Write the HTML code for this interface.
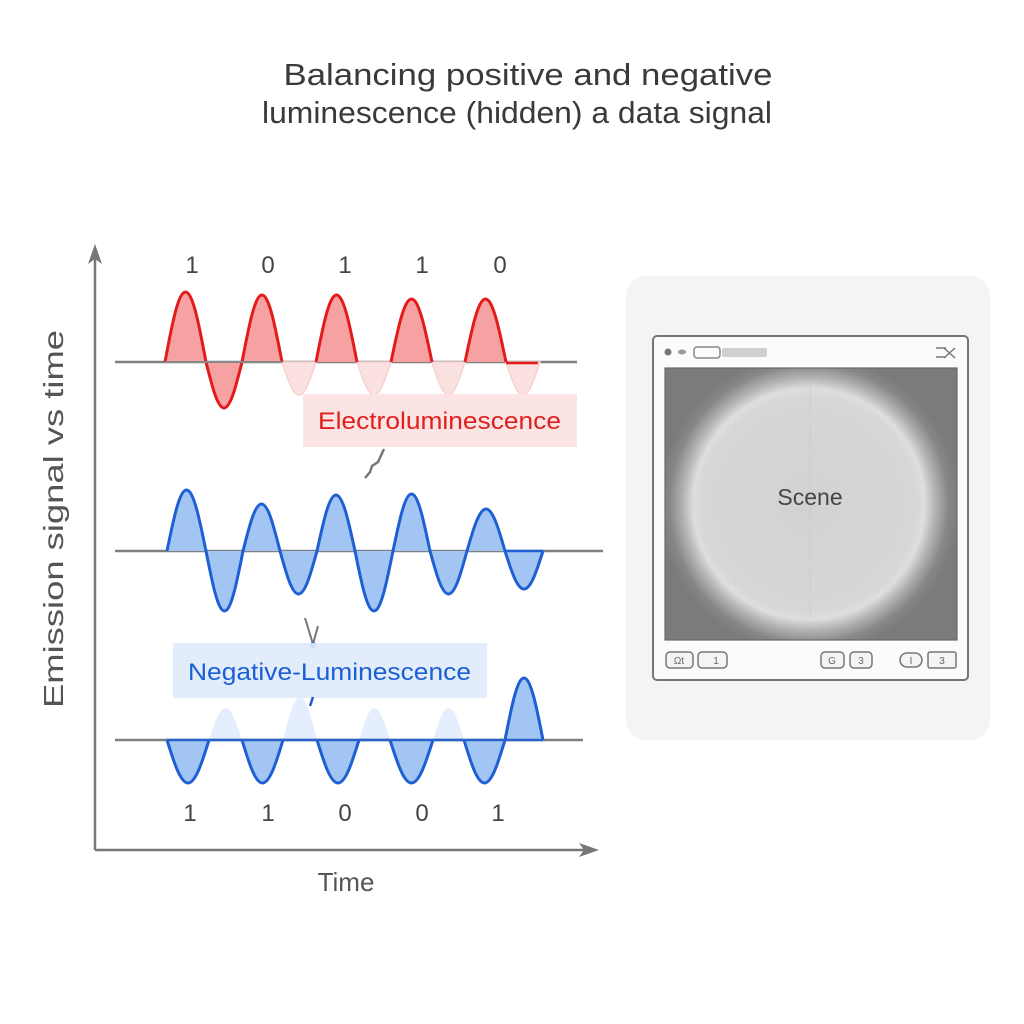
<!DOCTYPE html>
<html><head><meta charset="utf-8"><style>
html,body{margin:0;padding:0;background:#fff;}
svg{display:block;}
text{font-family:"Liberation Sans",sans-serif;}
</style></head><body>
<svg width="1024" height="1024" viewBox="0 0 1024 1024" xmlns="http://www.w3.org/2000/svg">
<defs>
<radialGradient id="scene" cx="809" cy="504" r="150" gradientUnits="userSpaceOnUse">
<stop offset="0" stop-color="#d2d2d2"/>
<stop offset="0.72" stop-color="#d7d7d7"/>
<stop offset="0.77" stop-color="#dedede"/>
<stop offset="0.84" stop-color="#b4b4b4"/>
<stop offset="0.93" stop-color="#878789"/>
<stop offset="1" stop-color="#7b7b7d"/>
</radialGradient>
</defs>
<rect width="1024" height="1024" fill="#fff"/>

<!-- Title -->
<text x="528" y="85" font-size="31" fill="#3a3a3a" text-anchor="middle" textLength="489" lengthAdjust="spacingAndGlyphs">Balancing positive and negative</text>
<text x="517" y="123" font-size="31" fill="#3a3a3a" text-anchor="middle" textLength="510" lengthAdjust="spacingAndGlyphs">luminescence (hidden) a data signal</text>

<!-- Axes -->
<line x1="95" y1="850" x2="95" y2="258" stroke="#777" stroke-width="2.5"/>
<polygon points="95,244 88,264 95,259 102,264" fill="#777"/>
<line x1="95" y1="850" x2="585" y2="850" stroke="#777" stroke-width="2.5"/>
<polygon points="599,850 579,843 584,850 579,857" fill="#777"/>
<text transform="translate(63,519) rotate(-90)" font-size="28" fill="#555" text-anchor="middle" textLength="378" lengthAdjust="spacingAndGlyphs">Emission signal vs time</text>
<text x="346" y="891" font-size="26" fill="#555" text-anchor="middle">Time</text>

<!-- Top labels -->
<g font-size="24" fill="#444" text-anchor="middle">
<text x="192" y="273">1</text><text x="268" y="273">0</text><text x="345" y="273">1</text><text x="422" y="273">1</text><text x="500" y="273">0</text>
<text x="190" y="821">1</text><text x="268" y="821">1</text><text x="345" y="821">0</text><text x="422" y="821">0</text><text x="498" y="821">1</text>
</g>

<!-- RED signal -->
<line x1="115" y1="362" x2="577" y2="362" stroke="#808080" stroke-width="2.5"/>
<g fill="#fbe0e0" stroke="#f6d2d2" stroke-width="1.5">
<path d="M282,362 C287.7,379.3 292.8,395 299,395 C305.2,395 310.3,379.3 316,362 Z"/>
<path d="M357,362 C362.7,379.3 367.8,395 374,395 C380.2,395 385.3,379.3 391,362 Z"/>
<path d="M432,362 C437.5,379.3 442.5,395 448.5,395 C454.5,395 459.5,379.3 465,362 Z"/>
<path d="M506,362 C511.7,379.3 516.8,395 523,395 C529.2,395 534.3,379.3 540,362 Z"/>
</g>
<g fill="#f7a2a2" stroke="#e31b1b" stroke-width="3" stroke-linejoin="round">
<path d="M165,362 C171.8,325.3 178.1,292 185.5,292 C192.9,292 199.2,325.3 206,362 C212,386.1 217.5,408 224,408 C230.5,408 236,386.1 242,362 C248.7,326.9 254.8,295 262,295 C269.2,295 275.3,326.9 282,362"/>
<path d="M316,362 C322.8,326.9 329.1,295 336.5,295 C343.9,295 350.2,326.9 357,362"/>
<path d="M391,362 C397.8,329 404.1,299 411.5,299 C418.9,299 425.2,329 432,362"/>
<path d="M465,362 C471.8,329 478.1,299 485.5,299 C492.9,299 499.2,329 506,362"/>
</g>
<line x1="165" y1="362" x2="282" y2="362" stroke="#888" stroke-width="2"/>
<line x1="506" y1="363" x2="538" y2="363" stroke="#e31b1b" stroke-width="2.5"/>

<!-- Electroluminescence label -->
<rect x="303" y="394" width="274" height="53" fill="#fde4e4"/>
<text x="318" y="429" font-size="24" fill="#e0201e" textLength="243" lengthAdjust="spacingAndGlyphs">Electroluminescence</text>
<path d="M384,449 L378,462 L372,466 L370,472 L365,478" stroke="#777" stroke-width="2.5" fill="none"/>

<!-- BLUE middle -->
<line x1="115" y1="551" x2="603" y2="551" stroke="#808080" stroke-width="2.5"/>
<path d="M167,551 C173.5,519.1 179.4,490 186.5,490 C193.6,490 199.5,519.1 206,551 C212.2,582.4 217.8,611 224.5,611 C231.2,611 236.8,582.4 243,551 C249.2,526.4 254.8,504 261.5,504 C268.2,504 273.8,526.4 280,551 C286.2,573.5 291.8,594 298.5,594 C305.2,594 310.8,573.5 317,551 C323.3,521.7 329.1,495 336,495 C342.9,495 348.7,521.7 355,551 C361.3,582.4 367.1,611 374,611 C380.9,611 386.7,582.4 393,551 C399.2,521.2 404.8,494 411.5,494 C418.2,494 423.8,521.2 430,551 C436.2,573.5 441.8,594 448.5,594 C455.2,594 460.8,573.5 467,551 C473.3,529 479.1,509 486,509 C492.9,509 498.7,529 505,551 C511.3,570.9 517.1,589 524,589 C530.9,589 536.7,570.9 543,551" fill="#a3c5f3" stroke="#1f5fd4" stroke-width="3" stroke-linejoin="round"/>
<line x1="505" y1="551" x2="543" y2="551" stroke="#1f5fd4" stroke-width="2.5"/>
<path d="M305,618 L313,644 L318,626" stroke="#777" stroke-width="2" fill="none"/>
<circle cx="313" cy="645" r="3" fill="#1f5fd4"/>

<!-- BLUE bottom -->
<g fill="#e4eefc" stroke="none">
<path d="M209,740 C214.5,723.2 219.5,708 225.5,708 C231.5,708 236.5,723.2 242,740 Z"/>
<path d="M283,740 C288.7,717.5 293.8,697 300,697 C306.2,697 311.3,717.5 317,740 Z"/>
<path d="M359,740 C364.2,723.2 368.9,708 374.5,708 C380.1,708 384.8,723.2 390,740 Z"/>
<path d="M433,740 C438.2,723.2 442.9,708 448.5,708 C454.1,708 458.8,723.2 464,740 Z"/>
</g>
<line x1="115" y1="740" x2="583" y2="740" stroke="#808080" stroke-width="2.5"/>
<g fill="#a3c5f3" stroke="#1f5fd4" stroke-width="3" stroke-linejoin="round">
<path d="M167,740 C174,762.5 180.4,783 188,783 C195.6,783 202,762.5 209,740"/>
<path d="M242,740 C248.8,762.5 255.1,783 262.5,783 C269.9,783 276.2,762.5 283,740"/>
<path d="M317,740 C324,762.5 330.4,783 338,783 C345.6,783 352,762.5 359,740"/>
<path d="M390,740 C397.2,762.5 403.7,783 411.5,783 C419.3,783 425.8,762.5 433,740"/>
<path d="M464,740 C470.8,762.5 477.1,783 484.5,783 C491.9,783 498.2,762.5 505,740"/>
<path d="M505,740 C511.3,707.5 517.1,678 524,678 C530.9,678 536.7,707.5 543,740"/>
</g>
<line x1="167" y1="740" x2="543" y2="740" stroke="#2a62cc" stroke-width="2.5"/>

<!-- Negative-Luminescence label -->
<rect x="173" y="643" width="314" height="55" fill="#dfeafb" fill-opacity="0.92"/>
<text x="188" y="680" font-size="24" fill="#1a5fd6" textLength="283" lengthAdjust="spacingAndGlyphs">Negative-Luminescence</text>
<path d="M313,697 L310,706" stroke="#1f5fd4" stroke-width="2.5"/>

<!-- Right panel -->
<rect x="626" y="276" width="364" height="464" rx="20" fill="#f4f4f4"/>
<rect x="653" y="336" width="315" height="344" rx="4" fill="#fbfbfb" stroke="#757575" stroke-width="2"/>
<circle cx="668" cy="352" r="3.5" fill="#777"/>
<ellipse cx="682" cy="352" rx="4" ry="2.5" fill="#999"/>
<rect x="694" y="347" width="26" height="11" rx="3" fill="none" stroke="#888" stroke-width="1.5"/>
<rect x="722" y="348" width="45" height="9" rx="2" fill="#cfcfcf"/>
<path d="M936,348 L946,348 M936,357 L946,357 M944,348 L955,358 M955,348 L944,358" stroke="#777" stroke-width="1.5" fill="none"/>
<rect x="665" y="368" width="292" height="272" fill="url(#scene)" stroke="#6a6a6a" stroke-width="1.2"/>
<line x1="810" y1="385" x2="810" y2="617" stroke="#c9c9c9" stroke-width="0.8" stroke-dasharray="30 6"/>
<text x="810" y="505" font-size="23" fill="#454545" text-anchor="middle">Scene</text>
<g fill="#f4f4f4" stroke="#777" stroke-width="1.5">
<rect x="666" y="652" width="27" height="16" rx="4"/>
<rect x="698" y="652" width="29" height="16" rx="4"/>
<rect x="821" y="652" width="23" height="16" rx="4"/>
<rect x="850" y="652" width="22" height="16" rx="4"/>
<rect x="900" y="653" width="22" height="14" rx="7"/>
<rect x="928" y="652" width="28" height="16" rx="2"/>
</g>
<g font-size="10" fill="#666" text-anchor="middle">
<text x="679" y="664">Ωt</text><text x="716" y="664">1</text><text x="832" y="664">G</text><text x="861" y="664">3</text><text x="911" y="664">I</text><text x="942" y="664">3</text>
</g>
</svg>
</body></html>
